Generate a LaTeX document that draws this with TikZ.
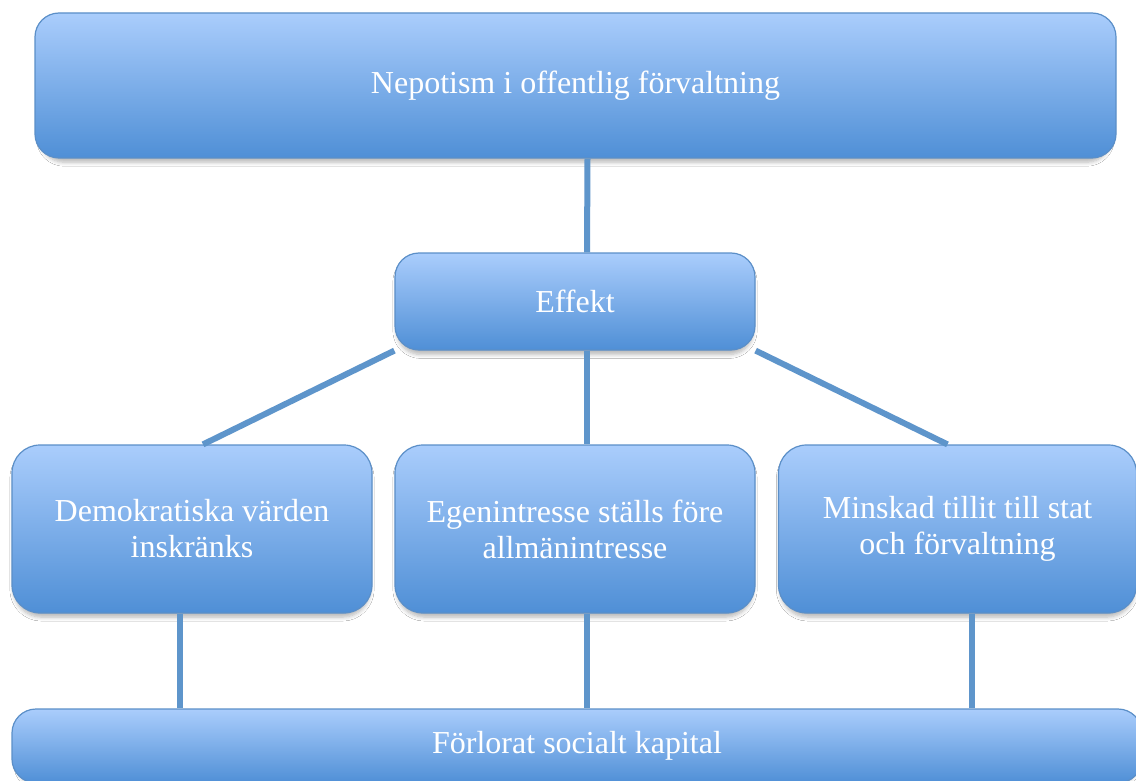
\documentclass[tikz,border=0pt]{standalone}
\usepackage{fontspec}
\setmainfont{Liberation Serif}
\usepackage{tikz}
\usetikzlibrary{shadows.blur}

\definecolor{boxtop}{HTML}{AACDFC}
\definecolor{boxbot}{HTML}{4F8FD6}
\definecolor{boxline}{HTML}{5B8FC8}
\definecolor{linkcol}{HTML}{5E95CB}

\tikzset{
  box/.style={draw=boxline, line width=0.6pt, rounded corners=12pt,
    top color=boxtop, bottom color=boxbot, text=white, align=center,
    font=\fontsize{16}{18}\selectfont, inner sep=0pt,
    blur shadow={shadow xshift=0pt, shadow yshift=-2.5pt, shadow scale=0.99,
      shadow blur radius=2pt, shadow opacity=28, shadow blur steps=6}},
  link/.style={draw=linkcol, line width=3pt}
}

\begin{document}
\begin{tikzpicture}[x=0.5pt, y=-0.5pt]

  \path[use as bounding box, clip] (0,0) rectangle (1136,781);
  \fill[white] (0,0) rectangle (1136,781);

  \node[box, minimum width=540.5pt, minimum height=72.5pt] (nep) at (575.5,85.5)
    {Nepotism i offentlig förvaltning};
  \node[box, minimum width=180pt, minimum height=48.5pt] (eff) at (575,301.5) {Effekt};

  \node[box, rounded corners=14pt, minimum width=180pt, minimum height=84pt] (dem) at (192,529)
    {Demokratiska värden\\inskränks};
  \node[box, rounded corners=14pt, minimum width=180pt, minimum height=84pt] (ege) at (575,529)
    {Egenintresse ställs före\\allmänintresse};
  \node[box, rounded corners=14pt, minimum width=179pt, minimum height=84pt] (min) at (957.5,529)
    {Minskad tillit till stat\\och förvaltning};

  \node[box, minimum width=565pt, minimum height=37pt] (fsk) at (577,746)
    {Förlorat socialt kapital};

  %% connectors
  \draw[link] ([xshift=6pt]nep.south) -- ([xshift=6pt]eff.north); % nep -> eff
  \draw[link] ([xshift=6pt]eff.south) -- ([xshift=6pt]ege.north); % eff -> ege
  \draw[link] (eff.south west) -- ([xshift=5.5pt]dem.north);      % eff -> dem
  \draw[link] (eff.south east) -- ([xshift=-5pt]min.north);       % eff -> min

  \draw[link] ([xshift=-6pt]dem.south) -- ([xshift=-6pt]dem.south |- fsk.north); % dem -> fsk
  \draw[link] ([xshift=6pt]ege.south) -- ([xshift=6pt]ege.south |- fsk.north);   % ege -> fsk
  \draw[link] ([xshift=7pt]min.south) -- ([xshift=7pt]min.south |- fsk.north);   % min -> fsk

\end{tikzpicture}
\end{document}
